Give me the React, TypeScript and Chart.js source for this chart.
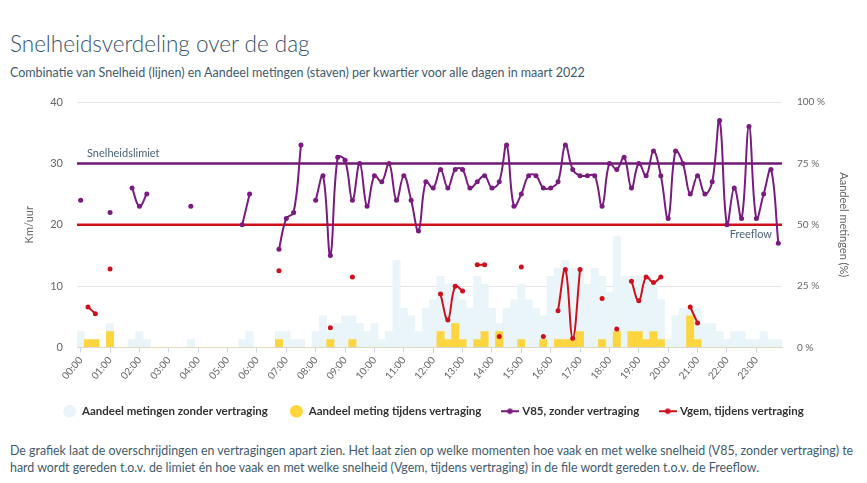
import React, { useEffect, useRef } from "react";
import { Chart, registerables } from "chart.js";

Chart.register(...registerables);

// ---------- data ----------
const CATEGORIES = [
  "00:00", "00:15", "00:30", "00:45", "01:00", "01:15", "01:30", "01:45",
  "02:00", "02:15", "02:30", "02:45", "03:00", "03:15", "03:30", "03:45",
  "04:00", "04:15", "04:30", "04:45", "05:00", "05:15", "05:30", "05:45",
  "06:00", "06:15", "06:30", "06:45", "07:00", "07:15", "07:30", "07:45",
  "08:00", "08:15", "08:30", "08:45", "09:00", "09:15", "09:30", "09:45",
  "10:00", "10:15", "10:30", "10:45", "11:00", "11:15", "11:30", "11:45",
  "12:00", "12:15", "12:30", "12:45", "13:00", "13:15", "13:30", "13:45",
  "14:00", "14:15", "14:30", "14:45", "15:00", "15:15", "15:30", "15:45",
  "16:00", "16:15", "16:30", "16:45", "17:00", "17:15", "17:30", "17:45",
  "18:00", "18:15", "18:30", "18:45", "19:00", "19:15", "19:30", "19:45",
  "20:00", "20:15", "20:30", "20:45", "21:00", "21:15", "21:30", "21:45",
  "22:00", "22:15", "22:30", "22:45", "23:00", "23:15", "23:30", "23:45",
];

// V85, zonder vertraging (km/uur)
const V85 = [
  24, null, null, null, 22, null, null, 26, 23, 25, null, null,
  null, null, null, 23, null, null, null, null, null, null, 20, 25,
  null, null, null, 16, 21, 22, 33, null, 24, 28, 15, 31,
  30.5, 24, 30, 23, 28, 27, 30, 24, 28, 24, 19, 27,
  26, 29, 26, 29, 29, 26, 27, 28, 26, 27, 33, 23,
  25, 28, 28, 26, 26, 27, 33, 29, 28, 28, 28, 23,
  30, 29, 31, 26, 30, 28, 32, 28, 21, 32, 30, 25,
  28, 25, 27, 37, 20, 26, 21, 36, 21, 25, 29, 17,
];

// Vgem, tijdens vertraging (km/uur)
const VGEM = [
  null, 6.6, 5.5, null, 12.8, null, null, null, null, null, null, null,
  null, null, null, null, null, null, null, null, null, null, null, null,
  null, null, null, 12.5, null, null, null, null, null, null, 3.2, null,
  null, 11.5, null, null, null, null, null, null, null, null, null, null,
  null, 8.7, 4.5, 10.0, 9.2, null, 13.5, 13.5, null, 1.8, null, null,
  13.1, null, null, 1.8, null, 6.0, 12.7, 1.5, 12.7, null, null, 8.0,
  null, 3.0, null, 10.8, 7.6, 11.5, 10.6, 11.5, null, null, null, 6.6,
  4.0, null, null, null, null, null, null, null, null, null, null, null,
];

// Aandeel metingen zonder vertraging (%)
const SHARE_FREE = [
  6.5, 0, 0, 0, 9.7, 0, 0, 3.2, 6.5, 3.2, 0, 0,
  0, 0, 0, 3.2, 0, 0, 0, 0, 0, 0, 3.2, 6.5,
  0, 0, 0, 6.5, 6.5, 3.2, 3.2, 0, 6.5, 12.9, 6.5, 9.7,
  12.9, 12.9, 9.7, 6.5, 9.7, 3.2, 6.5, 35.5, 16.1, 12.9, 6.5, 16.1,
  19.4, 29.0, 25.8, 22.6, 19.4, 16.1, 29.0, 25.8, 16.1, 9.7, 16.1, 19.4,
  25.8, 19.4, 16.1, 12.9, 29.0, 32.3, 35.5, 32.3, 32.3, 25.8, 32.3, 29.0,
  22.6, 45.2, 29.0, 29.0, 29.0, 29.0, 25.8, 19.4, 3.2, 12.9, 16.1, 16.1,
  16.1, 9.7, 9.7, 6.5, 3.2, 6.5, 6.5, 3.2, 3.2, 6.5, 3.2, 3.2,
];

// Aandeel meting tijdens vertraging (%)
const SHARE_DELAY = [
  0, 3.2, 3.2, 0, 6.5, 0, 0, 0, 0, 0, 0, 0,
  0, 0, 0, 0, 0, 0, 0, 0, 0, 0, 0, 0,
  0, 0, 0, 3.2, 0, 0, 0, 0, 0, 0, 3.2, 0,
  0, 3.2, 0, 0, 0, 0, 0, 0, 0, 0, 0, 0,
  0, 6.5, 3.2, 9.7, 3.2, 0, 3.2, 6.5, 0, 6.5, 0, 0,
  3.2, 0, 0, 3.2, 0, 3.2, 3.2, 3.2, 6.5, 0, 0, 3.2,
  0, 6.5, 0, 6.5, 6.5, 3.2, 6.5, 3.2, 0, 0, 0, 12.9,
  3.2, 0, 0, 0, 0, 0, 0, 0, 0, 0, 0, 0,
];

const SPEED_TICKS = [0, 10, 20, 30, 40];
const SHARE_TICKS = [0, 25, 50, 75, 100];
const SPEED_LIMIT = 30;
const FREEFLOW = 20;

// ---------- styling ----------
const FONT = "Lato, 'Open Sans', sans-serif";
const PURPLE = "#7a1b80";
const RED = "#d0101c";
const LIGHT_BLUE = "#eaf5f9";
const YELLOW = "#fdd53f";
const TEXT_DARK = "#36536a";
const TICK_COLOR = "#666666";

function lineMarker(color: string) {
  const c = document.createElement("canvas");
  c.width = 18;
  c.height = 8;
  const g = c.getContext("2d")!;
  g.strokeStyle = color;
  g.lineWidth = 2;
  g.beginPath();
  g.moveTo(0, 4);
  g.lineTo(18, 4);
  g.stroke();
  g.fillStyle = color;
  g.beginPath();
  g.arc(9, 4, 2.8, 0, Math.PI * 2);
  g.fill();
  return c;
}

const referenceLines = {
  id: "referenceLines",
  beforeDatasetsDraw(chart: any) {
    const { ctx, chartArea, scales } = chart;
    const items = [
      { v: SPEED_LIMIT, color: "#6e1a74" },
      { v: FREEFLOW, color: "#cf0f1a" },
    ];
    ctx.save();
    for (const it of items) {
      const y = scales.y.getPixelForValue(it.v);
      ctx.strokeStyle = it.color;
      ctx.lineWidth = 2.5;
      ctx.beginPath();
      ctx.moveTo(chartArea.left, y);
      ctx.lineTo(chartArea.right, y);
      ctx.stroke();
    }
    ctx.restore();
  },
  afterDatasetsDraw(chart: any) {
    const { ctx, chartArea, scales } = chart;
    ctx.save();
    ctx.font = `11px ${FONT}`;
    ctx.fillStyle = "#4a6377";
    ctx.textBaseline = "alphabetic";
    ctx.textAlign = "left";
    ctx.fillText("Snelheidslimiet", chartArea.left + 10, scales.y.getPixelForValue(SPEED_LIMIT) - 6);
    ctx.textAlign = "right";
    ctx.fillText("Freeflow", chartArea.right - 10, scales.y.getPixelForValue(FREEFLOW) + 13);
    ctx.restore();
  },
};

export default function App() {
  const canvasRef = useRef<HTMLCanvasElement>(null);

  useEffect(() => {
    const canvas = canvasRef.current;
    if (!canvas) return;
    Chart.defaults.font.family = FONT;
    const markers = [null, null, lineMarker(PURPLE), lineMarker(RED)];

    const chart = new Chart(canvas, {
      type: "bar",
      data: {
        labels: CATEGORIES,
        datasets: [
          {
            type: "bar",
            label: "Aandeel metingen zonder vertraging",
            data: SHARE_FREE,
            yAxisID: "y1",
            backgroundColor: LIGHT_BLUE,
            borderWidth: 0,
            barPercentage: 1,
            categoryPercentage: 1,
            grouped: false,
            order: 4,
          },
          {
            type: "bar",
            label: "Aandeel meting tijdens vertraging",
            data: SHARE_DELAY,
            yAxisID: "y1",
            backgroundColor: YELLOW,
            borderWidth: 0,
            barPercentage: 1,
            categoryPercentage: 1,
            grouped: false,
            order: 3,
          },
          {
            type: "line",
            label: "V85, zonder vertraging",
            data: V85,
            yAxisID: "y",
            borderColor: PURPLE,
            backgroundColor: PURPLE,
            borderWidth: 2,
            pointRadius: 2.5,
            pointBorderWidth: 0,
            pointBackgroundColor: PURPLE,
            tension: 0.4,
            spanGaps: false,
            order: 1,
          },
          {
            type: "line",
            label: "Vgem, tijdens vertraging",
            data: VGEM,
            yAxisID: "y",
            borderColor: RED,
            backgroundColor: RED,
            borderWidth: 2,
            pointRadius: 2.5,
            pointBorderWidth: 0,
            pointBackgroundColor: RED,
            tension: 0.4,
            spanGaps: false,
            order: 2,
          },
        ] as any,
      },
      options: {
        animation: false,
        responsive: true,
        maintainAspectRatio: false,
        layout: { padding: { top: 22, left: 0, right: 0, bottom: 0 } },
        plugins: {
          tooltip: { enabled: false },
          legend: {
            position: "bottom",
            labels: {
              usePointStyle: true,
              pointStyleWidth: 13,
              boxHeight: 9,
              padding: 22,
              color: "#333333",
              font: { family: FONT, size: 11.5, weight: "bold" },
              generateLabels: (ch: any) =>
                ch.data.datasets.map((ds: any, i: number) => ({
                  text: ds.label,
                  fillStyle: ds.backgroundColor,
                  strokeStyle: ds.backgroundColor,
                  lineWidth: 0,
                  pointStyle: markers[i] || "circle",
                  hidden: false,
                  datasetIndex: i,
                  fontColor: "#333333",
                })),
            },
          },
        },
        scales: {
          x: {
            offset: true,
            grid: {
              display: true,
              drawOnChartArea: false,
              drawTicks: true,
              tickLength: 5,
              offset: false,
              color: (c: any) => (c.index % 4 === 0 ? "#ccd6eb" : "rgba(0,0,0,0)"),
            },
            border: { display: true, color: "#ccd6eb", width: 1 },
            ticks: {
              autoSkip: false,
              maxRotation: 50,
              minRotation: 50,
              padding: 2,
              color: TICK_COLOR,
              font: { size: 10 },
              callback: (_v: any, i: number) => (i % 4 === 0 ? CATEGORIES[i] : ""),
            },
            afterFit: (s: any) => {
              s.height = 36;
            },
          },
          y: {
            position: "left",
            min: 0,
            max: 40,
            afterBuildTicks: (s: any) => {
              s.ticks = SPEED_TICKS.map((v) => ({ value: v }));
            },
            grid: { color: "#e6e6e6", drawTicks: false },
            border: { display: false },
            ticks: { color: TICK_COLOR, font: { size: 11 }, padding: 14 },
            title: {
              display: true,
              text: "Km/uur",
              color: TICK_COLOR,
              font: { size: 11 },
              padding: { top: 23, bottom: 0 },
            },
            afterFit: (s: any) => {
              s.width = 77;
            },
          },
          y1: {
            position: "right",
            min: 0,
            max: 100,
            afterBuildTicks: (s: any) => {
              s.ticks = SHARE_TICKS.map((v) => ({ value: v }));
            },
            grid: { drawOnChartArea: false, drawTicks: false },
            border: { display: false },
            ticks: {
              color: TICK_COLOR,
              font: { size: 10 },
              padding: 15,
              callback: (v: any) => `${v} %`,
            },
            title: {
              display: true,
              text: "Aandeel metingen (%)",
              color: TICK_COLOR,
              font: { size: 11 },
              padding: { top: 17, bottom: 0 },
            },
            afterFit: (s: any) => {
              s.width = 85;
            },
          },
        },
      },
      plugins: [referenceLines],
    } as any);

    return () => chart.destroy();
  }, []);

  return (
    <div
      style={{
        position: "absolute",
        left: 0,
        top: 0,
        width: 867,
        height: 483,
        background: "#ffffff",
        fontFamily: FONT,
        overflow: "hidden",
      }}
    >
      <div
        style={{
          position: "absolute",
          left: 10,
          top: 30,
          fontSize: 22.5,
          fontWeight: 300,
          lineHeight: "28px",
          color: TEXT_DARK,
          whiteSpace: "nowrap",
        }}
      >
        Snelheidsverdeling over de dag
      </div>
      <div
        style={{
          position: "absolute",
          left: 10,
          top: 65,
          fontSize: 12.5,
          lineHeight: "16px",
          color: "#3f5b6f",
          whiteSpace: "nowrap",
        }}
      >
        Combinatie van Snelheid (lijnen) en Aandeel metingen (staven) per kwartier voor alle dagen in maart 2022
      </div>
      <div style={{ position: "absolute", left: 0, top: 80, width: 867, height: 347 }}>
        <canvas ref={canvasRef} />
      </div>
      <div
        style={{
          position: "absolute",
          left: 10,
          top: 442,
          fontSize: 12.4,
          lineHeight: "17px",
          color: "#3f5b6f",
          whiteSpace: "nowrap",
        }}
      >
        De grafiek laat de overschrijdingen en vertragingen apart zien. Het laat zien op welke momenten hoe vaak en met welke snelheid (V85, zonder vertraging) te
        <br />
        hard wordt gereden t.o.v. de limiet én hoe vaak en met welke snelheid (Vgem, tijdens vertraging) in de file wordt gereden t.o.v. de Freeflow.
      </div>
    </div>
  );
}
